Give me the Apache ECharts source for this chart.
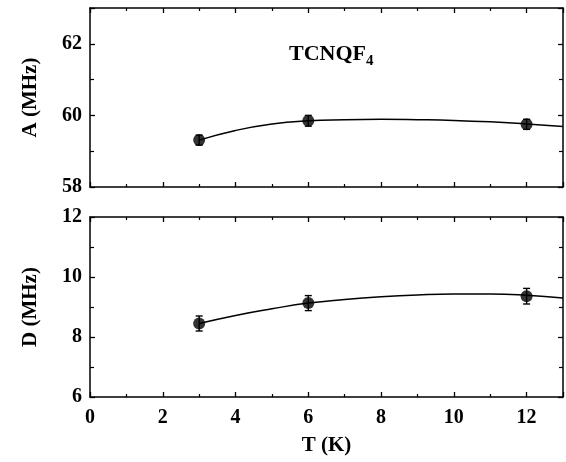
<!DOCTYPE html>
<html>
<head>
<meta charset="utf-8">
<script src="https://cdn.jsdelivr.net/npm/echarts@6/dist/echarts.min.js"></script>
<style>html,body{margin:0;padding:0;background:#fff}#c{width:566px;height:462px}</style>
</head>
<body>
<div id="c"></div>
<script>
// Measured points
const tPoints = [3, 6, 12];
const aValues = [59.31, 59.85, 59.75];
const aErrors = [0.14, 0.15, 0.14];
const dValues = [8.45, 9.13, 9.36];
const dErrors = [0.25, 0.25, 0.26];
// Fit curves
const tCurve = [3, 4, 5, 6, 7, 8, 9, 10, 11, 12, 13];
const aCurve = [59.31, 59.58, 59.76, 59.85, 59.88, 59.89, 59.88, 59.86, 59.82, 59.76, 59.69];
const dCurve = [8.45, 8.72, 8.94, 9.13, 9.25, 9.34, 9.40, 9.43, 9.43, 9.39, 9.30];
const xTickLabels = ['0', '2', '4', '6', '8', '10', '12'];

const FONT = '"Liberation Serif", "Times New Roman", serif';
const chart = echarts.init(document.getElementById('c'), null, {renderer: 'canvas'});

function xAx(gi, pos, showLabels, withName) {
  return {
    type: 'value', gridIndex: gi, position: pos, min: 0, max: 13, interval: 2,
    axisLine: {show: true, onZero: false, lineStyle: {color: '#000', width: 1.5}},
    axisTick: {show: true, inside: true, length: 5, lineStyle: {color: '#000', width: 1.3}},
    minorTick: {show: true, splitNumber: 2, length: 3, lineStyle: {color: '#000', width: 1.2}},
    splitLine: {show: false},
    axisLabel: {show: showLabels, margin: 11, color: '#000', fontFamily: FONT, fontWeight: 'bold', fontSize: 20,
      formatter: v => { const i = Math.round(v / 2); return (v % 2 === 0 && i < xTickLabels.length) ? xTickLabels[i] : ''; },
      showMaxLabel: false},
    name: withName ? 'T (K)' : '', nameLocation: 'middle', nameGap: 38,
    nameTextStyle: {color: '#000', fontFamily: FONT, fontWeight: 'bold', fontSize: 21}
  };
}
function yAx(gi, pos, min, max, showLabels, name) {
  return {
    type: 'value', gridIndex: gi, position: pos, min: min, max: max, interval: 2,
    axisLine: {show: true, onZero: false, lineStyle: {color: '#000', width: 1.5}},
    axisTick: {show: true, inside: true, length: 5, lineStyle: {color: '#000', width: 1.3}},
    minorTick: {show: true, splitNumber: 2, length: 4, lineStyle: {color: '#000', width: 1.2}},
    splitLine: {show: false},
    axisLabel: {show: showLabels, margin: 8, color: '#000', fontFamily: FONT, fontWeight: 'bold', fontSize: 20,
      formatter: v => (v % 2 === 0 ? String(v) : ''), showMaxLabel: true},
    name: name, nameLocation: 'middle', nameGap: 49,
    nameTextStyle: {color: '#000', fontFamily: FONT, fontWeight: 'bold', fontSize: 21}
  };
}

function errRender(params, api) {
  const x = api.value(0), lo = api.value(1), hi = api.value(2);
  const p1 = api.coord([x, hi]), p2 = api.coord([x, lo]);
  const w = 3.5;
  const st = {stroke: '#000', lineWidth: 1.4};
  return {type: 'group', children: [
    {type: 'line', shape: {x1: p1[0], y1: p1[1], x2: p2[0], y2: p2[1]}, style: st},
    {type: 'line', shape: {x1: p1[0] - w, y1: p1[1], x2: p1[0] + w, y2: p1[1]}, style: st},
    {type: 'line', shape: {x1: p2[0] - w, y1: p2[1], x2: p2[0] + w, y2: p2[1]}, style: st}
  ]};
}

const zip = (a, b) => a.map((v, i) => [v, b[i]]);
const errData = (vals, errs) => tPoints.map((t, i) => [t, vals[i] - errs[i], vals[i] + errs[i]]);

chart.setOption({
  animation: false,
  backgroundColor: '#fff',
  title: {
    text: '{a|TCNQF}{b|4}', left: 284, top: 36,
    textStyle: {rich: {
      a: {fontFamily: FONT, fontWeight: 'bold', fontSize: 22, color: '#000', lineHeight: 24, verticalAlign: 'bottom'},
      b: {fontFamily: FONT, fontWeight: 'bold', fontSize: 15, color: '#000', lineHeight: 24, verticalAlign: 'bottom', padding: [0, 0, -4, 0]}
    }}
  },
  grid: [
    {left: 90, top: 8, width: 473, height: 179, show: false},
    {left: 90, top: 217, width: 473, height: 180, show: false}
  ],
  xAxis: [
    xAx(0, 'bottom', false, false), xAx(0, 'top', false, false),
    xAx(1, 'bottom', true, true), xAx(1, 'top', false, false)
  ],
  yAxis: [
    yAx(0, 'left', 58, 63, true, 'A (MHz)'), yAx(0, 'right', 58, 63, false, ''),
    yAx(1, 'left', 6, 12, true, 'D (MHz)'), yAx(1, 'right', 6, 12, false, '')
  ],
  series: [
    {type: 'line', xAxisIndex: 0, yAxisIndex: 0, data: zip(tCurve, aCurve), smooth: 0.5, showSymbol: false,
     lineStyle: {color: '#000', width: 1.5}, z: 2},
    {type: 'custom', xAxisIndex: 0, yAxisIndex: 0, data: errData(aValues, aErrors), renderItem: errRender, z: 3},
    {type: 'scatter', xAxisIndex: 0, yAxisIndex: 0, data: zip(tPoints, aValues), symbolSize: 12,
     itemStyle: {color: '#000'}, z: 4},
    {type: 'line', xAxisIndex: 2, yAxisIndex: 2, data: zip(tCurve, dCurve), smooth: 0.5, showSymbol: false,
     lineStyle: {color: '#000', width: 1.5}, z: 2},
    {type: 'custom', xAxisIndex: 2, yAxisIndex: 2, data: errData(dValues, dErrors), renderItem: errRender, z: 3},
    {type: 'scatter', xAxisIndex: 2, yAxisIndex: 2, data: zip(tPoints, dValues), symbolSize: 12,
     itemStyle: {color: '#000'}, z: 4}
  ]
});
</script>
</body>
</html>
